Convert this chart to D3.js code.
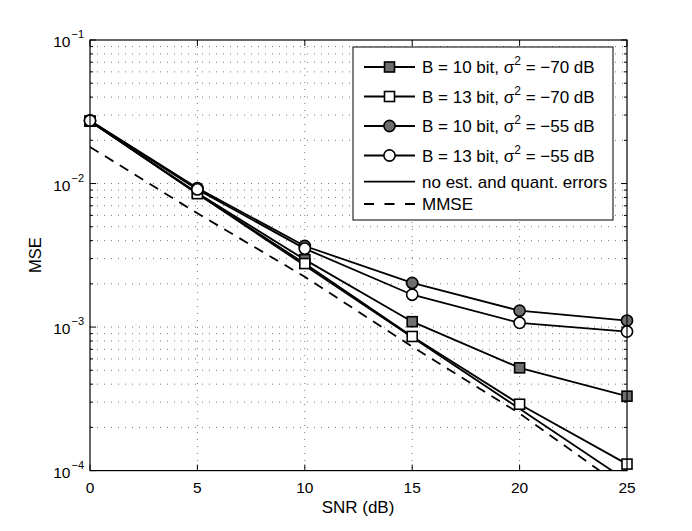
<!DOCTYPE html>
<html>
<head>
<meta charset="utf-8">
<script src="https://cdn.jsdelivr.net/npm/d3@7"></script>
<style>
  body { margin: 0; background: #fff; }
  text { font-family: "Liberation Sans", Arial, sans-serif; fill: #000; }
</style>
</head>
<body>
<div id="chart"></div>
<script>
// data
var snr = [0, 5, 10, 15, 20, 25];
var b10n70 = [0.0272, 0.0086, 0.00295, 0.00109, 0.00052, 0.00033];
var b13n70 = [0.0272, 0.0085, 0.00277, 0.00086, 0.00029, 0.000111];
var b10n55 = [0.0275, 0.0093, 0.00367, 0.00203, 0.0013, 0.00111];
var b13n55 = [0.0274, 0.0091, 0.00352, 0.00168, 0.00107, 0.00093];
var noErr = [0.0272, 0.0085, 0.00268, 0.00085, 0.00027, 0.000085];
var mmse = [0.018, 0.0062, 0.00224, 0.00073, 0.00025, 0.000073];

var xTicks = [0, 5, 10, 15, 20, 25];
var yDecades = [-1, -2, -3, -4];
var legendLabels = [
  ["B = 10 bit, σ", "2", " = −70 dB"],
  ["B = 13 bit, σ", "2", " = −70 dB"],
  ["B = 10 bit, σ", "2", " = −55 dB"],
  ["B = 13 bit, σ", "2", " = −55 dB"],
  ["no est. and quant. errors"],
  ["MMSE"]
];

var W = 692, H = 531;
var pLeft = 90, pRight = 627, pTop = 40, pBottom = 470.6;
var grey = "#6e6e6e";

var svg = d3.select("#chart").append("svg")
  .attr("width", W).attr("height", H);

var x = d3.scaleLinear().domain([0, 25]).range([pLeft, pRight]);
var y = d3.scaleLog().domain([1e-4, 1e-1]).range([pBottom, pTop]);

//grid
var minor = [];
yDecades.slice(1).forEach(function(d){
  for (var k = 2; k <= 9; k++) minor.push(k * Math.pow(10, d));
});
var gridG = svg.append("g").attr("stroke", "#555").attr("stroke-width", 0.8)
  .attr("stroke-dasharray", "1,6");
gridG.selectAll(".hg").data(minor.concat([1e-2, 1e-3]))
  .enter().append("line")
  .attr("x1", pLeft).attr("x2", pRight)
  .attr("y1", function(d){ return y(d); }).attr("y2", function(d){ return y(d); });
gridG.selectAll(".vg").data(xTicks.slice(1, -1))
  .enter().append("line")
  .attr("y1", pTop).attr("y2", pBottom)
  .attr("x1", function(d){ return x(d); }).attr("x2", function(d){ return x(d); });

//ticks inside box
var tickG = svg.append("g").attr("stroke", "#000").attr("stroke-width", 1);
xTicks.forEach(function(d){
  tickG.append("line").attr("x1", x(d)).attr("x2", x(d)).attr("y1", pBottom).attr("y2", pBottom - 6);
  tickG.append("line").attr("x1", x(d)).attr("x2", x(d)).attr("y1", pTop).attr("y2", pTop + 6);
});
yDecades.forEach(function(d){
  var v = Math.pow(10, d);
  tickG.append("line").attr("x1", pLeft).attr("x2", pLeft + 6).attr("y1", y(v)).attr("y2", y(v));
  tickG.append("line").attr("x1", pRight).attr("x2", pRight - 6).attr("y1", y(v)).attr("y2", y(v));
});
minor.forEach(function(v){
  tickG.append("line").attr("x1", pLeft).attr("x2", pLeft + 3).attr("y1", y(v)).attr("y2", y(v));
  tickG.append("line").attr("x1", pRight).attr("x2", pRight - 3).attr("y1", y(v)).attr("y2", y(v));
});

//axis labels
svg.selectAll(".xl").data(xTicks).enter().append("text")
  .attr("x", function(d){ return x(d); }).attr("y", 493)
  .attr("text-anchor", "middle").attr("font-size", 15.5)
  .text(function(d){ return d; });
yDecades.forEach(function(d){
  svg.append("text").attr("x", 70.5).attr("y", y(Math.pow(10, d)) + 7)
    .attr("font-size", 15.5).attr("text-anchor", "end").text("10");
  svg.append("text").attr("x", 71.5).attr("y", y(Math.pow(10, d)) - 2)
    .attr("font-size", 11).text("−" + (-d));
});
svg.append("text").attr("x", 358).attr("y", 513)
  .attr("text-anchor", "middle").attr("font-size", 17).text("SNR (dB)");
svg.append("text").attr("transform", "translate(41,255) rotate(-90)")
  .attr("text-anchor", "middle").attr("font-size", 16.5).text("MSE");

//curves
svg.append("clipPath").attr("id", "plotClip").append("rect")
  .attr("x", pLeft).attr("y", pTop).attr("width", pRight - pLeft).attr("height", pBottom - pTop);

var series = [
  {vals: b10n70, marker: "square", fill: grey, dash: null},
  {vals: b13n70, marker: "square", fill: "#fff", dash: null},
  {vals: b10n55, marker: "circle", fill: grey, dash: null},
  {vals: b13n55, marker: "circle", fill: "#fff", dash: null},
  {vals: noErr, marker: null, fill: null, dash: null},
  {vals: mmse, marker: null, fill: null, dash: "10,7.5", legendDash: "10,10.5"}
];

var line = d3.line()
  .x(function(d, i){ return x(snr[i]); })
  .y(function(d){ return y(d); });

var lineG = svg.append("g").attr("clip-path", "url(#plotClip)");
series.slice().reverse().forEach(function(s){
  lineG.append("path").attr("d", line(s.vals))
    .attr("fill", "none").attr("stroke", "#000").attr("stroke-width", 1.8)
    .attr("stroke-dasharray", s.dash);
});

function drawMarker(g, kind, fill, cx, cy){
  if (kind === "square") {
    g.append("rect").attr("x", cx - 5).attr("y", cy - 5).attr("width", 10).attr("height", 10)
      .attr("fill", fill).attr("stroke", "#000").attr("stroke-width", 1.6);
  } else if (kind === "circle") {
    g.append("circle").attr("cx", cx).attr("cy", cy).attr("r", 5.6)
      .attr("fill", fill).attr("stroke", "#000").attr("stroke-width", 1.6);
  }
}
var markG = svg.append("g");
series.forEach(function(s){
  if (!s.marker) return;
  s.vals.forEach(function(v, i){ drawMarker(markG, s.marker, s.fill, x(snr[i]), y(v)); });
});

//box
svg.append("rect").attr("x", pLeft).attr("y", pTop).attr("width", pRight - pLeft).attr("height", pBottom - pTop)
  .attr("fill", "none").attr("stroke", "#000").attr("stroke-width", 1.2);

//legend
var lg = svg.append("g");
lg.append("rect").attr("x", 353).attr("y", 47).attr("width", 260).attr("height", 173)
  .attr("fill", "#fff").attr("stroke", "#000").attr("stroke-width", 1);
var rowY = [67, 96.5, 126, 155.5, 181.7, 204];
series.forEach(function(s, i){
  var ry = rowY[i];
  lg.append("line").attr("x1", 364).attr("x2", 415).attr("y1", ry).attr("y2", ry)
    .attr("stroke", "#000").attr("stroke-width", 1.8).attr("stroke-dasharray", s.legendDash || s.dash);
  drawMarker(lg, s.marker, s.fill, 389.5, ry);
  var t = lg.append("text").attr("x", 422).attr("y", ry + 6.3).attr("font-size", 17);
  var parts = legendLabels[i];
  t.append("tspan").text(parts[0]);
  if (parts.length > 1) {
    t.append("tspan").attr("font-size", 12).attr("dy", -8).text(parts[1]);
    t.append("tspan").attr("dy", 8).text(parts[2]);
  }
});
</script>
</body>
</html>
